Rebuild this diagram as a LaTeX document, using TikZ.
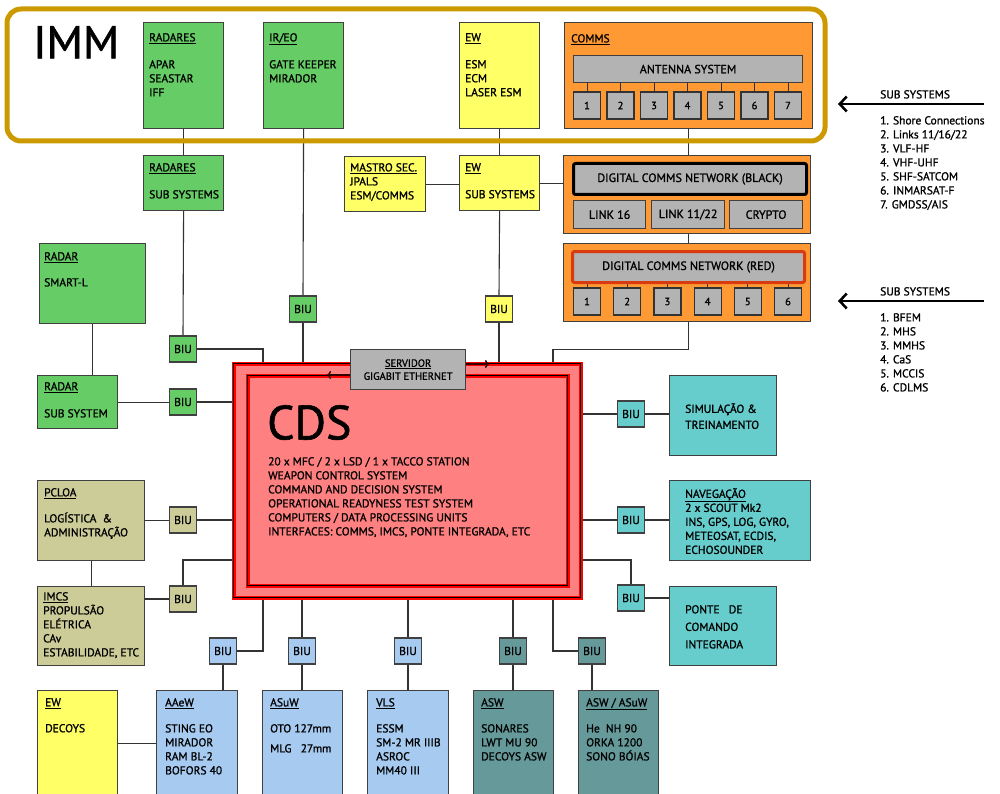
\documentclass[tikz,border=0pt]{standalone}
\usepackage{fontspec}
\setmainfont{PT Sans}
\newfontfamily\dfont{PT Sans}[FakeBold=1.2]
\usepackage{tikz}
\usetikzlibrary{arrows.meta, calc, backgrounds, positioning}
\usepackage{xcolor}

\definecolor{immgold}{HTML}{CC9900}
\definecolor{radgreen}{HTML}{66CC66}
\definecolor{ewyellow}{HTML}{FFFF66}
\definecolor{commorange}{HTML}{FF9933}
\definecolor{netgray}{HTML}{B3B3B3}
\definecolor{netred}{HTML}{D93A10}
\definecolor{cdsred}{HTML}{FF8080}
\definecolor{simteal}{HTML}{66CCCC}
\definecolor{logkhaki}{HTML}{CCCC99}
\definecolor{wpnblue}{HTML}{A6CAF0}
\definecolor{aswteal}{HTML}{669999}

\begin{document}
\begin{tikzpicture}[x=1pt, y=-1pt,
    sys/.style={rectangle, draw=black!75, line width=1.2pt, anchor=north west, inner sep=0pt},
    txt/.style={anchor=north west, align=left, inner sep=0pt, font=\dfont\fontsize{11.5}{14}\selectfont},
    gtxt/.style={font=\dfont\fontsize{12}{13}\selectfont},
    biu/.style={rectangle, draw=black!75, line width=1.2pt, minimum width=27, minimum height=26, inner sep=0pt, font=\dfont\fontsize{11.5}{12}\selectfont},
    num/.style={rectangle, draw=black!80, line width=1.2pt, fill=netgray, minimum width=27, minimum height=27, inner sep=0pt, font=\dfont\fontsize{10.5}{12}\selectfont},
    link/.style={draw=black!80, line width=1.1pt},
    subarrow/.style={line width=2.5pt, -{Straight Barb[length=7pt, width=15pt]}}]

    \useasboundingbox (0,0) rectangle (1000,794);

    % IMM frame
    \draw[immgold, line width=5pt, rounded corners=14pt] (7,9) rectangle (825,141);
    \node[anchor=north west, inner sep=0pt, font=\dfont\fontsize{46}{46}\selectfont] (imm) at (33,26) {IMM};

    % radares / ir-eo / ew
    \node[sys, fill=radgreen, minimum width=80, minimum height=106] (radares) at (143,22) {};
    \node[txt] (radaresT) at ($(radares.north west)+(6,11)$) {\underline{RADARES}\\[13pt]APAR\\SEASTAR\\IFF};

    \node[sys, fill=radgreen, minimum width=80, minimum height=106] (ireo) at (263,22) {};
    \node[txt] (ireoT) at ($(ireo.north west)+(6,11)$) {\underline{IR/EO}\\[13pt]GATE KEEPER\\MIRADOR};

    \node[sys, fill=ewyellow, minimum width=80, minimum height=106] (ewtop) at (459,22) {};
    \node[txt] (ewtopT) at ($(ewtop.north west)+(6,11)$) {\underline{EW}\\[13pt]ESM\\ECM\\LASER ESM};

    % comms
    \node[sys, fill=commorange, minimum width=248, minimum height=106] (comms) at (564,22) {};
    \node[txt] (commsT) at ($(comms.north west)+(7,12)$) {\underline{COMMS}};
    \node[sys, fill=netgray, minimum width=229, minimum height=27, gtxt] (antenna) at (573,55) {ANTENNA SYSTEM};
    \foreach \i in {1,...,7} {
        \node[num] (ant\i) at ({587+33.5*(\i-1)},105.5) {\i};
        \draw[link, line width=0.9pt] (ant\i.north) -- (ant\i.north |- antenna.south);
    }

    % sub systems row
    \node[sys, fill=radgreen, minimum width=80, minimum height=55] (radsub) at (143,155) {};
    \node[txt] (radsubT) at ($(radsub.north west)+(6,8)$) {\underline{RADARES}\\[13pt]SUB SYSTEMS};

    \node[sys, fill=ewyellow, minimum width=81, minimum height=55] (mastro) at (344,156) {};
    \node[txt] (mastroT) at ($(mastro.north west)+(6,7)$) {\underline{MASTRO SEC.}\\JPALS\\ESM/COMMS};

    \node[sys, fill=ewyellow, minimum width=80, minimum height=55] (ewsub) at (459,155) {};
    \node[txt] (ewsubT) at ($(ewsub.north west)+(6,8)$) {\underline{EW}\\[13pt]SUB SYSTEMS};

    % digital comms black
    \node[sys, fill=commorange, minimum width=247, minimum height=78] (blackgrp) at (563,155) {};
    \node[sys, fill=netgray, draw=black, line width=3pt, rounded corners=2pt, minimum width=233, minimum height=31, gtxt] (blacknet) at (572,162) {DIGITAL COMMS NETWORK (BLACK)};
    \node[sys, fill=netgray, minimum width=72, minimum height=28, gtxt] (link16) at (573,200) {LINK 16};
    \node[sys, fill=netgray, minimum width=73, minimum height=28, gtxt] (link1122) at (651,200) {LINK 11/22};
    \node[sys, fill=netgray, minimum width=73, minimum height=28, gtxt] (crypto) at (729,200) {CRYPTO};

    % digital comms red
    \node[sys, fill=commorange, minimum width=247, minimum height=78] (redgrp) at (563,243) {};
    \node[sys, fill=netgray, draw=netred, line width=3pt, rounded corners=2pt, minimum width=232, minimum height=31, gtxt] (rednet) at (571,250) {DIGITAL COMMS NETWORK (RED)};
    \foreach \i in {1,...,6} {
        \node[num] (red\i) at ({587+40.2*(\i-1)},301.5) {\i};
        \draw[link, line width=0.9pt] (red\i.north) -- (red\i.north |- rednet.south);
    }

    % sub systems lists
    \coordinate (subAs) at (984,104);
    \coordinate (subAe) at (838,104);
    \draw[subarrow] (subAs) -- (subAe);
    \node[txt] (subT1) at (880,90) {SUB SYSTEMS};
    \node[txt] (subL1) at (880,116) {1. Shore Connections\\2. Links 11/16/22\\3. VLF-HF\\4. VHF-UHF\\5. SHF-SATCOM\\6. INMARSAT-F\\7. GMDSS/AIS};

    \coordinate (subBs) at (984,301);
    \coordinate (subBe) at (838,301);
    \draw[subarrow] (subBs) -- (subBe);
    \node[txt] (subT2) at (880,287) {SUB SYSTEMS};
    \node[txt] (subL2) at (880,313) {1. BFEM\\2. MHS\\3. MMHS\\4. CaS\\5. MCCIS\\6. CDLMS};

    % radar smart-l
    \node[sys, fill=radgreen, minimum width=106, minimum height=80] (smartl) at (39,243) {};
    \node[txt] (smartlT) at ($(smartl.north west)+(5,9)$) {\underline{RADAR}\\[12pt]SMART-L};
    \node[sys, fill=radgreen, minimum width=80, minimum height=53] (radarsub) at (37,375) {};
    \node[txt] (radarsubT) at ($(radarsub.north west)+(7,7)$) {\underline{RADAR}\\[13pt]SUB SYSTEM};

    % pcloa / imcs
    \node[sys, fill=logkhaki, minimum width=107, minimum height=80] (pcloa) at (37,480) {};
    \node[txt] (pcloaT) at ($(pcloa.north west)+(7,8)$) {\underline{PCLOA}\\[12pt]LOGÍSTICA\ \ \&\\ADMINISTRAÇÃO};
    \node[sys, fill=logkhaki, minimum width=107, minimum height=79] (imcs) at (37,586) {};
    \node[txt] (imcsT) at ($(imcs.north west)+(6,6)$) {\underline{IMCS}\\PROPULSÃO\\ELÉTRICA\\CAv\\ESTABILIDADE, ETC};

    % cds
    \node[sys, fill=cdsred, draw=red, double=black, double distance=1pt, line width=1.8pt, minimum width=347, minimum height=234] (cds) at (233,363) {};
    \node[sys, draw=red, double=black, double distance=1pt, line width=1.8pt, minimum width=320, minimum height=210] (cdsin) at (247,375) {};
    \node[anchor=north west, inner sep=0pt, font=\dfont\fontsize{48}{48}\selectfont] (cdsT) at (267,405) {CDS};
    \node[txt] (cdsL) at (268,457) {20 x MFC / 2 x LSD / 1 x TACCO STATION\\WEAPON CONTROL SYSTEM\\COMMAND AND DECISION SYSTEM\\OPERATIONAL READYNESS TEST SYSTEM\\COMPUTERS / DATA PROCESSING UNITS\\INTERFACES: COMMS, IMCS, PONTE INTEGRADA, ETC};
    \node[sys, fill=netgray, minimum width=115, minimum height=40, align=center, font=\dfont\fontsize{10.5}{13}\selectfont] (servidor) at (350,349) {\underline{SERVIDOR}\\GIGABIT ETHERNET};
    \coordinate (gbL) at (327,375);
    \coordinate (gbR) at (489,364);
    \draw[black!80!red, line width=1.5pt, -{To[length=4pt, width=8pt]}] (servidor.west |- gbL) -- (gbL);
    \draw[black!80!red, line width=1.5pt, -{To[length=4pt, width=8pt]}] (servidor.east |- gbR) -- (gbR);

    % cds border points
    \coordinate (cdsN1) at (263,363);
    \coordinate (cdsN5) at (553,363);
    \coordinate (cdsW4) at (233,560);
    \coordinate (cdsE3) at (580,560);
    \coordinate (cdsS1) at (263,597);
    \coordinate (cdsS5) at (553,597);

    % right side
    \node[sys, fill=simteal, minimum width=107, minimum height=80] (sim) at (669,375) {};
    \node[txt] (simT) at ($(sim.north west)+(16,28)$) {SIMULAÇÃO \&\\[2pt]TREINAMENTO};
    \node[sys, fill=simteal, minimum width=141, minimum height=80] (nav) at (669,480) {};
    \node[txt] (navT) at ($(nav.north west)+(16,8)$) {\underline{NAVEGAÇÃO}\\2 x SCOUT Mk2\\INS, GPS, LOG, GYRO,\\METEOSAT, ECDIS,\\ECHOSOUNDER};
    \node[sys, fill=simteal, minimum width=107, minimum height=79] (ponte) at (669,586) {};
    \node[txt] (ponteT) at ($(ponte.north west)+(16,19)$) {PONTE\ \ \ DE\\[3.5pt]COMANDO\\[3.5pt]INTEGRADA};

    % weapons row
    \node[sys, fill=ewyellow, minimum width=80, minimum height=106] (ewdec) at (37,690) {};
    \node[txt] (ewdecT) at ($(ewdec.north west)+(8,8)$) {\underline{EW}\\[12pt]DECOYS};
    \node[sys, fill=wpnblue, minimum width=81, minimum height=106] (aaew) at (156,690) {};
    \node[txt] (aaewT) at ($(aaew.north west)+(9,8)$) {\underline{AAeW}\\[12pt]STING EO\\MIRADOR\\RAM BL-2\\BOFORS 40};
    \node[sys, fill=wpnblue, minimum width=80, minimum height=106] (asuw) at (262,690) {};
    \node[txt] (asuwT) at ($(asuw.north west)+(8,8)$) {\underline{ASuW}\\[12pt]OTO 127mm\\[6pt]MLG\ \ \ 27mm};
    \node[sys, fill=wpnblue, minimum width=81, minimum height=106] (vls) at (367,690) {};
    \node[txt] (vlsT) at ($(vls.north west)+(9,8)$) {\underline{VLS}\\[12pt]ESSM\\SM-2 MR IIIB\\ASROC\\MM40 III};
    \node[sys, fill=aswteal, minimum width=80, minimum height=106] (asw) at (473,690) {};
    \node[txt] (aswT) at ($(asw.north west)+(8,8)$) {\underline{ASW}\\[12pt]SONARES\\LWT MU 90\\DECOYS ASW};
    \node[sys, fill=aswteal, minimum width=80, minimum height=106] (aswasuw) at (578,690) {};
    \node[txt] (aswasuwT) at ($(aswasuw.north west)+(8,8)$) {\underline{ASW / ASuW}\\[12pt]He\ \ NH 90\\ORKA 1200\\SONO BÓIAS};

    % biu
    \node[biu, fill=radgreen] (biuRs) at (183,349) {BIU};
    \node[biu, fill=radgreen] (biuRad) at (183,402) {BIU};
    \node[biu, fill=radgreen] (biuIr) at (303,309) {BIU};
    \node[biu, fill=ewyellow] (biuEw) at (499,309) {BIU};
    \node[biu, fill=logkhaki] (biuPc) at (183,520) {BIU};
    \node[biu, fill=logkhaki] (biuIm) at (183,599) {BIU};
    \node[biu, fill=simteal] (biuSim) at (631,414) {BIU};
    \node[biu, fill=simteal] (biuNav) at (631,520) {BIU};
    \node[biu, fill=simteal] (biuPo) at (631,598) {BIU};
    \node[biu, fill=wpnblue] (biuAa) at (223,651) {BIU};
    \node[biu, fill=wpnblue] (biuAs) at (302,651) {BIU};
    \node[biu, fill=wpnblue] (biuVl) at (408,651) {BIU};
    \node[biu, fill=aswteal] (biuAw) at (513,651) {BIU};
    \node[biu, fill=aswteal] (biuAu) at (592,651) {BIU};

    % connectors
    \begin{scope}[on background layer]
        \fill[white] (0,0) rectangle (1000,794);
        \draw[link] (radares.south) -- (radsub.north);
        \draw[link] (radsub.south) -- (biuRs.north);
        \draw[link] (biuRs.east) -| (cdsN1);
        \draw[link] (ireo.south) -- (biuIr.north);
        \draw[link] (biuIr.south) -- (biuIr.south |- cds.north);
        \draw[link] (ewtop.south) -- (ewsub.north);
        \draw[link] (ewsub.south) -- (biuEw.north);
        \draw[link] (biuEw.south) -- (biuEw.south |- cds.north);
        \draw[link] (mastro.east) -- (mastro.east -| ewsub.west);
        \draw[link] (ewsub.east) -- (ewsub.east -| blackgrp.west);
        \draw[link] (comms.south) -- (comms.south |- blackgrp.north);
        \draw[link] (comms.south |- blackgrp.south) -- (comms.south |- redgrp.north);
        \draw[link] (comms.south |- redgrp.south) -- ++(0,27) -| (cdsN5);

        \draw[link] (smartl.south) -- (smartl.south |- radarsub.north);
        \draw[link] (radarsub.east) -- (radarsub.east -| biuRad.west);
        \draw[link] (biuRad.east) -- (biuRad.east -| cds.west);
        \draw[link] (pcloa.east) -- (pcloa.east -| biuPc.west);
        \draw[link] (biuPc.east) -- (biuPc.east -| cds.west);
        \draw[link] (pcloa.south) -- (pcloa.south |- imcs.north);
        \draw[link] (biuIm.west) -- (biuIm.west -| imcs.east);
        \draw[link] (biuIm.north) |- (cdsW4);

        \draw[link] (biuSim.west -| cds.east) -- (biuSim.west);
        \draw[link] (biuSim.east) -- (biuSim.east -| sim.west);
        \draw[link] (biuNav.west -| cds.east) -- (biuNav.west);
        \draw[link] (biuNav.east) -- (biuNav.east -| nav.west);
        \draw[link] (cdsE3) -| (biuPo.north);
        \draw[link] (biuPo.east) -- (biuPo.east -| ponte.west);

        \draw[link] (biuAa.east) -| (cdsS1);
        \draw[link] (biuAa.south) -- (biuAa.south |- aaew.north);
        \draw[link] (biuAs.north |- cds.south) -- (biuAs.north);
        \draw[link] (biuAs.south) -- (biuAs.south |- asuw.north);
        \draw[link] (biuVl.north |- cds.south) -- (biuVl.north);
        \draw[link] (biuVl.south) -- (biuVl.south |- vls.north);
        \draw[link] (biuAw.north |- cds.south) -- (biuAw.north);
        \draw[link] (biuAw.south) -- (biuAw.south |- asw.north);
        \draw[link] (cdsS5) |- (biuAu.west);
        \draw[link] (biuAu.south) -- (biuAu.south |- aswasuw.north);
        \draw[link] (ewdec.east) -- (ewdec.east -| aaew.west);
    \end{scope}
\end{tikzpicture}
\end{document}
